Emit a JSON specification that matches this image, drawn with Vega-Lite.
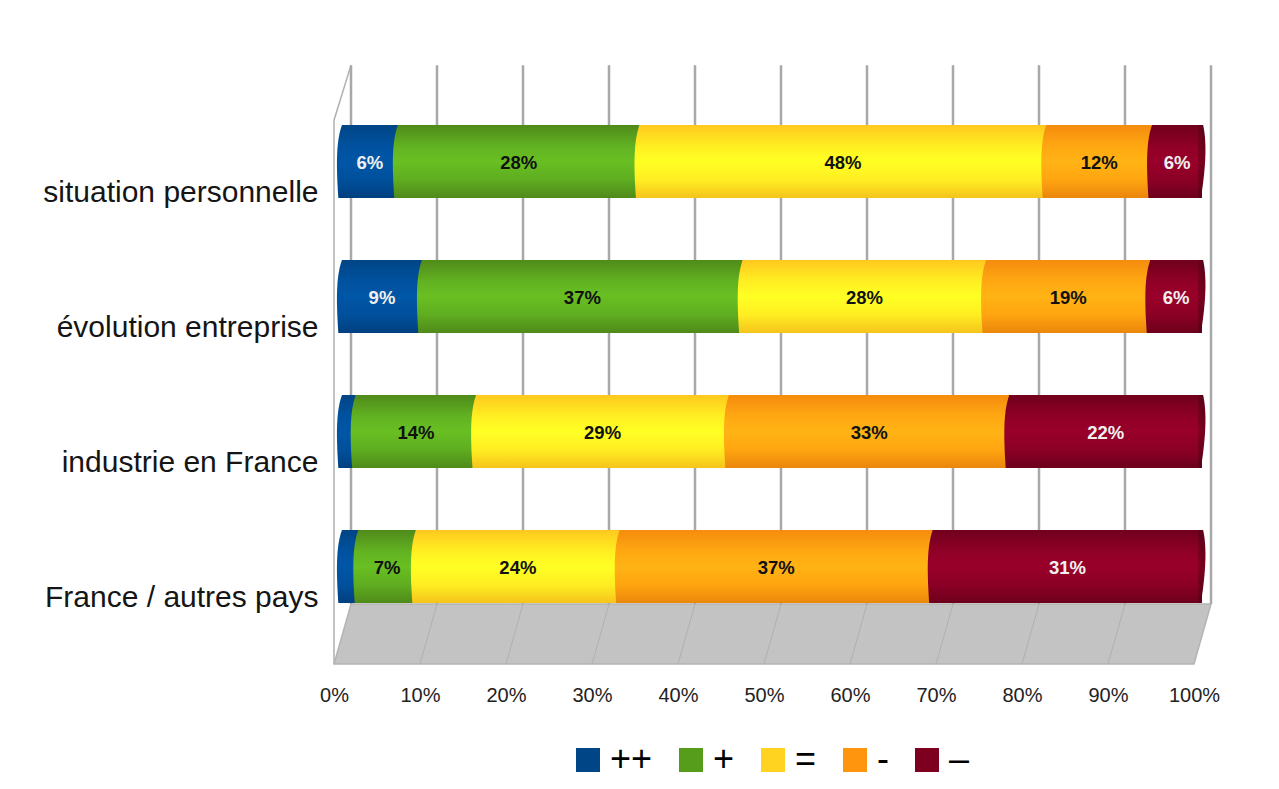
{
"$schema":"https://vega.github.io/schema/vega-lite/v6.json",
"width":860,"height":540,
"autosize":{"type":"none"},
"padding":{"left":334,"top":124,"right":85,"bottom":125},
"background":"#ffffff",
"config":{"view":{"stroke":null},"font":"Liberation Sans"},
"datasets":{
"rows":[
{"c":"situation personnelle","s":"++","o":1,"v":6.5,"label":"6%"},
{"c":"situation personnelle","s":"+","o":2,"v":28.1,"label":"28%"},
{"c":"situation personnelle","s":"=","o":3,"v":47.3,"label":"48%"},
{"c":"situation personnelle","s":"-","o":4,"v":12.3,"label":"12%"},
{"c":"situation personnelle","s":"–","o":5,"v":5.8,"label":"6%"},
{"c":"évolution entreprise","s":"++","o":1,"v":9.3,"label":"9%"},
{"c":"évolution entreprise","s":"+","o":2,"v":37.3,"label":"37%"},
{"c":"évolution entreprise","s":"=","o":3,"v":28.3,"label":"28%"},
{"c":"évolution entreprise","s":"-","o":4,"v":19.1,"label":"19%"},
{"c":"évolution entreprise","s":"–","o":5,"v":6,"label":"6%"},
{"c":"industrie en France","s":"++","o":1,"v":1.6,"label":""},
{"c":"industrie en France","s":"+","o":2,"v":14,"label":"14%"},
{"c":"industrie en France","s":"=","o":3,"v":29.4,"label":"29%"},
{"c":"industrie en France","s":"-","o":4,"v":32.6,"label":"33%"},
{"c":"industrie en France","s":"–","o":5,"v":22.4,"label":"22%"},
{"c":"France / autres pays","s":"++","o":1,"v":1.9,"label":""},
{"c":"France / autres pays","s":"+","o":2,"v":6.7,"label":"7%"},
{"c":"France / autres pays","s":"=","o":3,"v":23.7,"label":"24%"},
{"c":"France / autres pays","s":"-","o":4,"v":36.4,"label":"37%"},
{"c":"France / autres pays","s":"–","o":5,"v":31.3,"label":"31%"}
]
},
"encoding":{
"x":{"type":"quantitative","scale":{"domain":[0,100],"nice":false,"zero":false}}
},
"layer":[
{"layer":[
{"data":{"values":[{"x":0,"y":0,"y2":0},{"x":1.98,"y":0,"y2":11.1},{"x":100,"y":0,"y2":11.1},{"x":101.98,"y":11.1,"y2":11.1}]},
 "mark":{"type":"area","fill":"#c3c3c3","stroke":"#b4b4b4","strokeWidth":1.5,"opacity":1},
 "encoding":{"x":{"field":"x","type":"quantitative","scale":{"domain":[0,100],"nice":false,"zero":false},
   "axis":{"values":[0,10,20,30,40,50,60,70,80,90,100],"format":".0f","labelExpr":"datum.label + '%'","title":null,"domain":false,"ticks":false,"grid":false,"labelFontSize":20,"labelColor":"#222222","labelPadding":21,"labelFont":"Liberation Sans","labelFlush":false,"labelBound":false,"labelOverlap":false}},
  "y":{"field":"y","type":"quantitative","scale":{"domain":[0,100],"nice":false,"zero":false},"axis":null},"y2":{"field":"y2"}}},
{"data":{"values":[{"g":10,"x":10,"y":0},{"g":10,"x":11.98,"y":11.1},{"g":20,"x":20,"y":0},{"g":20,"x":21.98,"y":11.1},{"g":30,"x":30,"y":0},{"g":30,"x":31.98,"y":11.1},{"g":40,"x":40,"y":0},{"g":40,"x":41.98,"y":11.1},{"g":50,"x":50,"y":0},{"g":50,"x":51.98,"y":11.1},{"g":60,"x":60,"y":0},{"g":60,"x":61.98,"y":11.1},{"g":70,"x":70,"y":0},{"g":70,"x":71.98,"y":11.1},{"g":80,"x":80,"y":0},{"g":80,"x":81.98,"y":11.1},{"g":90,"x":90,"y":0},{"g":90,"x":91.98,"y":11.1}]},
 "mark":{"type":"line","stroke":"#b0b0b0","strokeWidth":1},
 "encoding":{"x":{"field":"x","type":"quantitative"},"y":{"field":"y","type":"quantitative","scale":{"domain":[0,100],"nice":false,"zero":false},"axis":null},"detail":{"field":"g"}}},
{"data":{"values":[{"x":0,"y":0},{"x":0,"y":100.7},{"x":1.98,"y":110.9}]},
 "mark":{"type":"line","stroke":"#b0b0b0","strokeWidth":1.5},
 "encoding":{"x":{"field":"x","type":"quantitative"},"y":{"field":"y","type":"quantitative","scale":{"domain":[0,100],"nice":false,"zero":false},"axis":null},"order":{"field":"y"}}},
{"data":{"values":[{"p":0},{"p":10},{"p":20},{"p":30},{"p":40},{"p":50},{"p":60},{"p":70},{"p":80},{"p":90},{"p":100}]},
 "mark":{"type":"rule","stroke":"#a8a8a8","strokeWidth":2.5,"xOffset":17},
 "encoding":{"x":{"field":"p","type":"quantitative"},"y":{"datum":11.1,"scale":{"domain":[0,100],"nice":false,"zero":false},"axis":null},"y2":{"datum":110.9}}}
]},
{"data":{"name":"rows"},
 "encoding":{"y":{"field":"c","type":"nominal","sort":["situation personnelle","évolution entreprise","industrie en France","France / autres pays"],"scale":{"paddingInner":0,"paddingOuter":0},
   "axis":{"orient":"left","title":null,"domain":false,"ticks":false,"grid":false,"labelFontSize":30,"labelColor":"#151515","labelPadding":16,"labelLimit":330,"labelOffset":1,"labelFont":"Liberation Sans"}}},
 "layer":[
 {"transform":[{"stack":"v","groupby":["c"],"sort":[{"field":"o","order":"ascending"}],"as":["x0","x1"]}],
  "layer":[
  {"mark":{"type":"bar","size":73,"xOffset":8,"x2Offset":8,"yOffset":-30},
   "encoding":{"x":{"field":"x0","type":"quantitative"},"x2":{"field":"x1"},
    "color":{"field":"s","type":"nominal","scale":{"domain":["++","+","=","-","–"],"range":["#004586","#579d1c","#ffd320","#ff950e","#7e0021"]},
     "sort":["++","+","=","-","–"],
     "legend":{"orient":"none","legendX":236,"legendY":618,"direction":"horizontal","columns":5,"gridAlign":"none","title":null,"symbolType":"square","symbolSize":576,"symbolStrokeWidth":0,"symbolOpacity":1,"labelFontSize":36,"labelColor":"#000000","labelOffset":4,"columnPadding":20,"labelFont":"Liberation Sans"}}}},
  {"mark":{"type":"bar","size":73,"xOffset":8,"x2Offset":8,"yOffset":-30},
   "encoding":{"x":{"field":"x0","type":"quantitative"},"x2":{"field":"x1"},
    "fill":{"condition":[
     {"test":"datum.s==='++'","value":{"gradient":"linear","x1":0,"y1":0,"x2":0,"y2":1,"stops":[{"offset":0,"color":"#004586"},{"offset":0.3,"color":"#0052a0"},{"offset":0.5,"color":"#0056a6"},{"offset":0.75,"color":"#00509c"},{"offset":1,"color":"#004080"}]}},
     {"test":"datum.s==='+'","value":{"gradient":"linear","x1":0,"y1":0,"x2":0,"y2":1,"stops":[{"offset":0,"color":"#4f8a1a"},{"offset":0.3,"color":"#62b322"},{"offset":0.5,"color":"#68bf22"},{"offset":0.75,"color":"#5fad20"},{"offset":1,"color":"#4f8a1a"}]}},
     {"test":"datum.s==='='","value":{"gradient":"linear","x1":0,"y1":0,"x2":0,"y2":1,"stops":[{"offset":0,"color":"#ffc81e"},{"offset":0.3,"color":"#fff022"},{"offset":0.5,"color":"#ffff24"},{"offset":0.75,"color":"#ffee22"},{"offset":1,"color":"#f5c41c"}]}},
     {"test":"datum.s==='-'","value":{"gradient":"linear","x1":0,"y1":0,"x2":0,"y2":1,"stops":[{"offset":0,"color":"#f58c0e"},{"offset":0.3,"color":"#ffa812"},{"offset":0.5,"color":"#ffb314"},{"offset":0.75,"color":"#ffa510"},{"offset":1,"color":"#ea860c"}]}},
     {"test":"datum.s==='–'","value":{"gradient":"linear","x1":0,"y1":0,"x2":0,"y2":1,"stops":[{"offset":0,"color":"#70001d"},{"offset":0.3,"color":"#910027"},{"offset":0.5,"color":"#98002a"},{"offset":0.75,"color":"#8c0026"},{"offset":1,"color":"#6c001c"}]}}
    ],"value":"#999999"}}},
  {"transform":[{"filter":"datum.s==='–'"}],
   "mark":{"type":"point","filled":true,"opacity":1,"size":5329,"xOffset":8,"yOffset":-30,"strokeWidth":0,
    "shape":"M0.03,-1 C0.12,-0.6 0.13,0 -0.03,1 L-0.1,1 L-0.1,-1 Z",
    "fill":{"gradient":"linear","x1":0,"y1":0,"x2":0,"y2":1,"stops":[{"offset":0,"color":"#5e0018"},{"offset":0.5,"color":"#7a0020"},{"offset":1,"color":"#5a0016"}]}},
   "encoding":{"x":{"datum":100,"type":"quantitative"}}},
  {"mark":{"type":"point","filled":true,"opacity":1,"size":5329,"xOffset":8,"yOffset":-30,"strokeWidth":0,
    "shape":"M0,-1 C-0.15,-0.6 -0.17,0 -0.1,1 L0.1,1 L0.1,-1 Z"},
   "encoding":{"x":{"field":"x0","type":"quantitative"},
    "fill":{"condition":[
     {"test":"datum.s==='++'","value":{"gradient":"linear","x1":0,"y1":0,"x2":0,"y2":1,"stops":[{"offset":0,"color":"#004586"},{"offset":0.3,"color":"#0052a0"},{"offset":0.5,"color":"#0056a6"},{"offset":0.75,"color":"#00509c"},{"offset":1,"color":"#004080"}]}},
     {"test":"datum.s==='+'","value":{"gradient":"linear","x1":0,"y1":0,"x2":0,"y2":1,"stops":[{"offset":0,"color":"#4f8a1a"},{"offset":0.3,"color":"#62b322"},{"offset":0.5,"color":"#68bf22"},{"offset":0.75,"color":"#5fad20"},{"offset":1,"color":"#4f8a1a"}]}},
     {"test":"datum.s==='='","value":{"gradient":"linear","x1":0,"y1":0,"x2":0,"y2":1,"stops":[{"offset":0,"color":"#ffc81e"},{"offset":0.3,"color":"#fff022"},{"offset":0.5,"color":"#ffff24"},{"offset":0.75,"color":"#ffee22"},{"offset":1,"color":"#f5c41c"}]}},
     {"test":"datum.s==='-'","value":{"gradient":"linear","x1":0,"y1":0,"x2":0,"y2":1,"stops":[{"offset":0,"color":"#f58c0e"},{"offset":0.3,"color":"#ffa812"},{"offset":0.5,"color":"#ffb314"},{"offset":0.75,"color":"#ffa510"},{"offset":1,"color":"#ea860c"}]}},
     {"test":"datum.s==='–'","value":{"gradient":"linear","x1":0,"y1":0,"x2":0,"y2":1,"stops":[{"offset":0,"color":"#70001d"},{"offset":0.3,"color":"#910027"},{"offset":0.5,"color":"#98002a"},{"offset":0.75,"color":"#8c0026"},{"offset":1,"color":"#6c001c"}]}}
    ],"value":"#999999"}}}
  ]},
 {"mark":{"type":"text","fontSize":18.5,"fontWeight":"bold","xOffset":8,"yOffset":-29,"baseline":"middle","align":"center","font":"Liberation Sans"},
  "encoding":{"x":{"field":"v","type":"quantitative","stack":"zero","bandPosition":0.5},
   "detail":{"field":"s"},"order":{"field":"o","type":"quantitative"},
   "text":{"field":"label"},
   "color":{"condition":{"test":"datum.s==='++'||datum.s==='–'","value":"#f0f0f0"},"value":"#111111"}}}
 ]}
],
"resolve":{"scale":{"y":"independent"},"axis":{"y":"independent"}}
}
